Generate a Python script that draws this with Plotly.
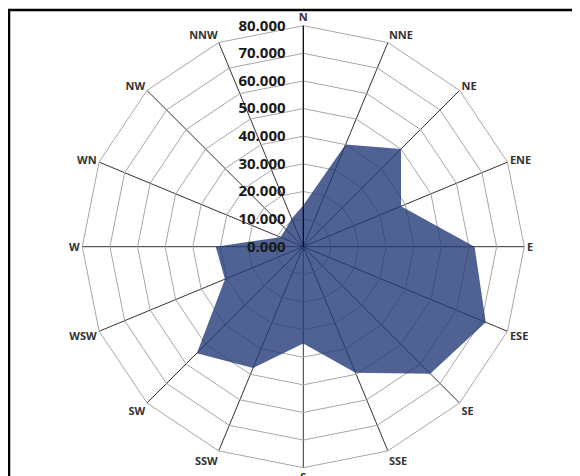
import plotly.graph_objects as go

directions = ["N", "NNE", "NE", "ENE", "E", "ESE", "SE", "SSE",
              "S", "SSW", "SW", "WSW", "W", "WN", "NW", "NNW"]
values = [15.0, 40.0, 50.0, 38.3, 62.0, 71.5, 65.0, 49.4,
          35.0, 47.5, 54.5, 30.7, 31.7, 9.0, 9.0, 11.0]
radial_ticks = [0, 10, 20, 30, 40, 50, 60, 70, 80]

theta = directions + [directions[0]]
r = values + [values[0]]

fig = go.Figure()
fig.add_trace(go.Scatterpolar(
    r=r, theta=theta, mode="lines", fill="toself",
    fillcolor="rgba(35,59,120,0.8)",
    line=dict(color="rgba(0,0,0,0)", width=0),
    showlegend=False, hoverinfo="skip",
))

# page body has an 8px margin, so figure coords are page coords minus 8
W, H = 572, 468
cx, cy, R = 295.3, 238.7, 221
fig.update_layout(
    width=W, height=H,
    margin=dict(l=0, r=0, t=0, b=0),
    paper_bgcolor="white",
    polar=dict(
        domain=dict(x=[(cx - R) / W, (cx + R) / W],
                    y=[(H - cy - R) / H, (H - cy + R) / H]),
        bgcolor="white",
        gridshape="linear",
        radialaxis=dict(
            range=[0, 80], tickvals=radial_ticks,
            ticktext=[f"<b>{v:.3f}</b>" for v in radial_ticks],
            angle=90, tickangle=90, side="counterclockwise",
            showline=True, linecolor="black", linewidth=1,
            gridcolor="#a6a6a6", gridwidth=1,
            ticks="outside", ticklen=12, tickcolor="rgba(0,0,0,0)",
            layer="above traces",
            tickfont=dict(family="Open Sans", size=15, color="#1a1a1a"),
        ),
        angularaxis=dict(
            type="category", categoryarray=directions,
            direction="clockwise", rotation=90,
            tickvals=directions,
            ticktext=[f"<b>{d}</b>" for d in directions],
            showline=True, linecolor="#a6a6a6", linewidth=1,
            gridcolor="#333333", gridwidth=1, ticks="",
            tickfont=dict(family="Open Sans", size=11, color="#333333"),
        ),
    ),
    shapes=[dict(type="rect", xref="paper", yref="paper",
                 x0=1 / W, x1=569 / W, y0=-0.05, y1=1 - 2 / H,
                 line=dict(color="black", width=2.5))],
)

fig.write_html("out.html")
